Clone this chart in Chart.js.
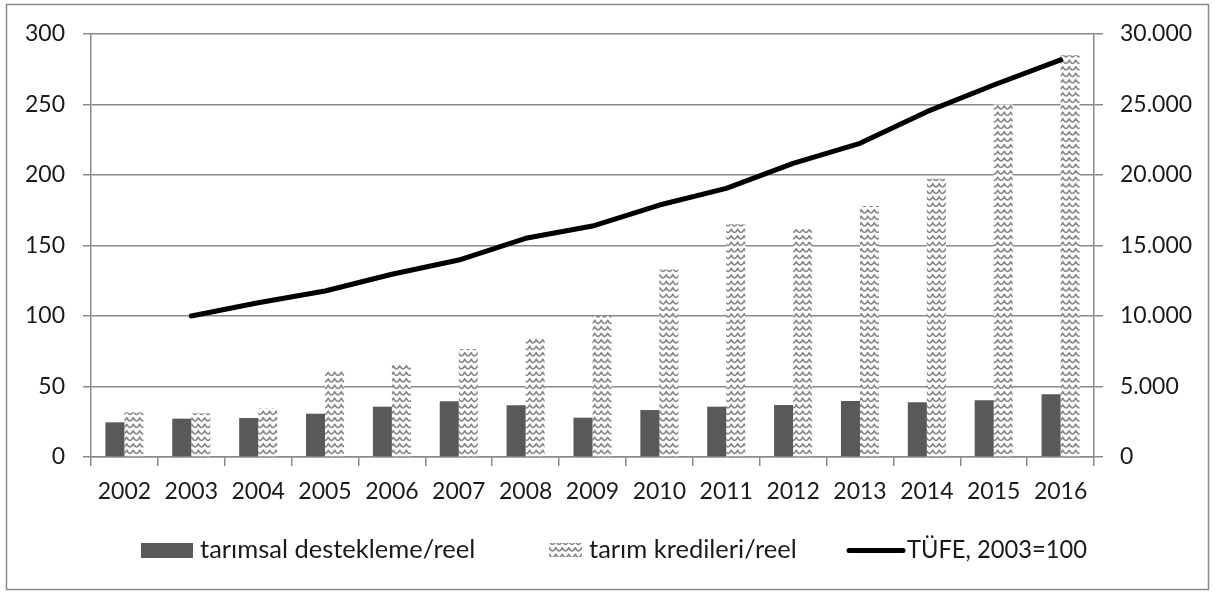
<!DOCTYPE html>
<html><head><meta charset="utf-8">
<script src="https://cdn.jsdelivr.net/npm/chart.js@4/dist/chart.umd.min.js"></script>
<style>html,body{margin:0;padding:0;background:#fff}canvas{display:block}</style>
</head><body>
<canvas id="c" width="1215" height="592"></canvas>
<script>
const years = ['2002','2003','2004','2005','2006','2007','2008','2009','2010','2011','2012','2013','2014','2015','2016'];
const destekleme = [24.6,27.2,27.7,30.7,35.7,39.5,36.7,27.9,33.3,35.7,36.9,39.7,38.8,40.2,44.5];
const krediler = [31.7,31,34.5,60.8,65.2,76.6,85.1,100,133,165,161.5,178,197.4,250,285];
const tufe = [null,10000,10940,11770,12960,13970,15510,16380,17870,19050,20830,22250,24490,26380,28160];
const seriesLabels = ['tarımsal destekleme/reel','tarım kredileri/reel','TÜFE, 2003=100'];
const leftMax = 300, leftStep = 50;
const rightMax = 30000, rightStep = 5000;

const FONT = 'Lato';
const FS = 23;
const LFS = 25.5;
const TXT = '#1a1a1a';
const GRID = '#8a8a8a';

function makeWave(){
  const P = 6.5, W = 13, H = 13;
  const t = document.createElement('canvas'); t.width = W; t.height = H;
  const g = t.getContext('2d');
  g.fillStyle = '#fff'; g.fillRect(0,0,W,H);
  g.strokeStyle = '#878787'; g.lineWidth = 1.5; g.lineJoin = 'round'; g.lineCap = 'round';
  [-3.25, 3.25, 9.75, 16.25].forEach(y0 => {
    g.beginPath();
    for (let k = -1; k <= 3; k++) {
      const x = k * P;
      if (k === -1) g.moveTo(x, y0 + 1.7);
      g.quadraticCurveTo(x + P * 0.25, y0 + 1.7, x + P * 0.5, y0 - 1.6);
      g.quadraticCurveTo(x + P * 0.75, y0 + 1.7, x + P, y0 + 1.7);
    }
    g.stroke();
  });
  return g.createPattern(t, 'repeat');
}
const wave = makeWave();

const bgPlugin = {
  id: 'bg',
  beforeDraw(chart){
    const c = chart.ctx; c.save();
    c.fillStyle = '#fff'; c.fillRect(0,0,chart.width,chart.height);
    c.strokeStyle = GRID; c.lineWidth = 1.5;
    c.strokeRect(6.5, 4.5, 1202, 585);
    c.restore();
  }
};

const legendPlugin = {
  id: 'customLegend',
  afterDraw(chart){
    const c = chart.ctx; c.save();
    c.font = LFS + 'px ' + FONT; c.textBaseline = 'alphabetic';
    const base = 558;
    const ds = chart.data.datasets;
    c.fillStyle = ds[0].backgroundColor; c.fillRect(141, 543, 52, 15);
    c.fillStyle = TXT; c.fillText(ds[0].label, 200, base, 277);
    c.fillStyle = wave; c.fillRect(549, 543, 33, 14);
    c.fillStyle = TXT; c.fillText(ds[1].label, 589, base, 208);
    c.strokeStyle = '#000'; c.lineWidth = 5; c.lineCap = 'round';
    c.beginPath(); c.moveTo(849, 550.5); c.lineTo(903, 550.5); c.stroke();
    c.fillStyle = TXT; c.fillText(ds[2].label, 907, base, 180);
    c.restore();
  }
};

Chart.defaults.font.family = FONT;
Chart.defaults.font.size = FS;
Chart.defaults.color = TXT;

const fmt = v => String(v).replace(/\B(?=(\d{3})+(?!\d))/g, '.');

new Chart(document.getElementById('c'), {
  data: {
    labels: years,
    datasets: [
      {type:'bar', label: seriesLabels[0], data: destekleme, backgroundColor:'#595959', yAxisID:'y', order:2, barPercentage:1, categoryPercentage:0.569},
      {type:'bar', label: seriesLabels[1], data: krediler, backgroundColor: wave, yAxisID:'y', order:2, barPercentage:1, categoryPercentage:0.569},
      {type:'line', label: seriesLabels[2], data: tufe, borderColor:'#000', borderWidth:5, pointRadius:0, tension:0, yAxisID:'y1', order:1, borderCapStyle:'round', borderJoinStyle:'round'}
    ]
  },
  options: {
    responsive:false, animation:false, devicePixelRatio:1,
    layout:{padding:{top:34,left:0,right:0,bottom:0}},
    plugins:{legend:{display:false}, tooltip:{enabled:false}},
    scales:{
      x:{
        offset:true,
        grid:{offset:true, drawOnChartArea:false, drawTicks:true, tickLength:9, color:GRID, lineWidth:1.5},
        border:{color:GRID, width:1.5},
        ticks:{padding:12, autoSkip:false, maxRotation:0, minRotation:0},
        afterFit(s){ s.height = 135; }
      },
      y:{
        position:'left', min:0, max:leftMax,
        ticks:{stepSize:leftStep, padding:18},
        grid:{color:GRID, lineWidth:1.5, tickLength:8},
        border:{color:GRID, width:1.5},
        afterFit(s){ s.width = 91; }
      },
      y1:{
        position:'right', min:0, max:rightMax,
        ticks:{stepSize:rightStep, padding:17, callback: v => fmt(v)},
        grid:{drawOnChartArea:false, tickLength:9, color:GRID, lineWidth:1.5},
        border:{color:GRID, width:1.5},
        afterFit(s){ s.width = 121; }
      }
    }
  },
  plugins:[bgPlugin, legendPlugin]
});
</script>
</body></html>
